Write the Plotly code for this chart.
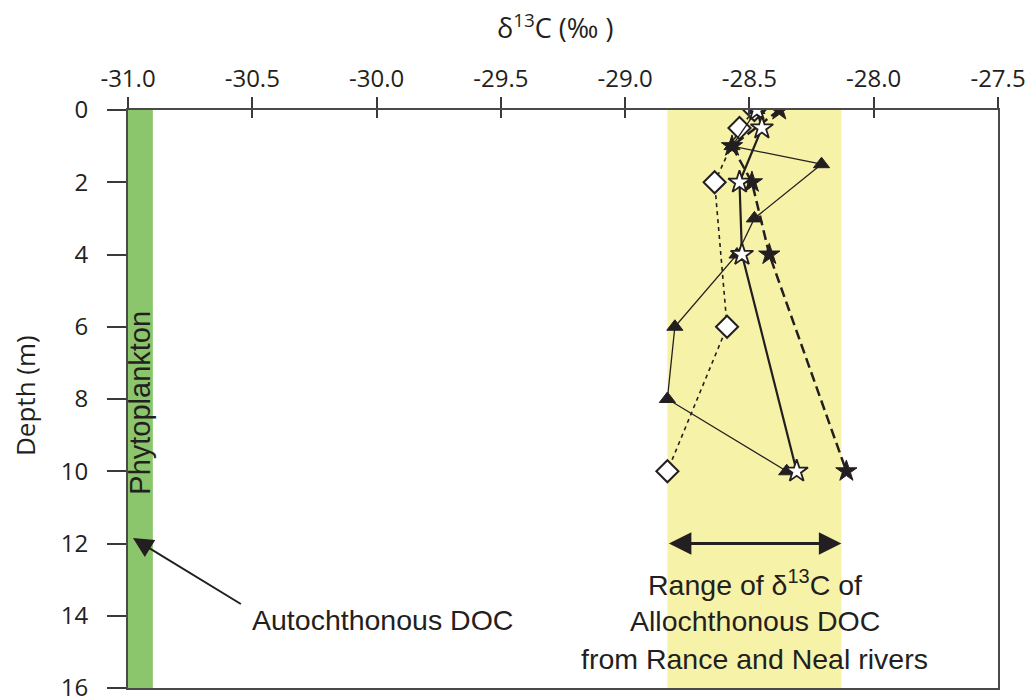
import plotly.graph_objects as go

# ---- data ----
tri_depth = [0, 1, 1.5, 3, 4, 6, 8, 10]
tri_d13c = [-28.47, -28.57, -28.21, -28.48, -28.55, -28.80, -28.83, -28.35]

ostar_depth = [0, 0.5, 2, 4, 10]
ostar_d13c = [-28.47, -28.45, -28.54, -28.53, -28.31]

fstar_depth = [0, 1, 2, 4, 10]
fstar_d13c = [-28.38, -28.57, -28.49, -28.42, -28.11]

dia_depth = [0, 0.5, 2, 6, 10]
dia_d13c = [-28.48, -28.54, -28.64, -28.59, -28.83]

phyto_range = [-31.0, -30.9]
alloch_range = [-28.83, -28.13]

x_ticks = [-31.0, -30.5, -30.0, -29.5, -29.0, -28.5, -28.0, -27.5]
y_ticks = [0, 2, 4, 6, 8, 10, 12, 14, 16]

INK = "#231f20"
TICKFONT = "Open Sans"
LABELFONT = "Liberation Sans, Arial, sans-serif"

fig = go.Figure()

# bands
fig.add_shape(type="rect", xref="x", yref="y", x0=phyto_range[0], x1=phyto_range[1],
              y0=0, y1=16, fillcolor="#8cc66c", line_width=0, layer="below")
fig.add_shape(type="rect", xref="x", yref="y", x0=alloch_range[0], x1=alloch_range[1],
              y0=0, y1=16, fillcolor="#f6f2a8", line_width=0, layer="below")

# series
fig.add_trace(go.Scatter(x=dia_d13c, y=dia_depth, mode="lines+markers",
                         line=dict(color=INK, width=1.6, dash="4px,4px"),
                         marker=dict(symbol="diamond", size=17, color="white",
                                     line=dict(color=INK, width=2)),
                         showlegend=False))
fig.add_trace(go.Scatter(x=fstar_d13c, y=fstar_depth, mode="lines+markers",
                         line=dict(color=INK, width=2.5, dash="10px,5px"),
                         marker=dict(symbol="star", size=16, color=INK,
                                     line=dict(color=INK, width=1)),
                         showlegend=False))
fig.add_trace(go.Scatter(x=tri_d13c, y=tri_depth, mode="lines+markers",
                         line=dict(color=INK, width=1.3),
                         marker=dict(symbol="triangle-up", size=14, color=INK,
                                     line=dict(color=INK, width=1)),
                         showlegend=False))
fig.add_trace(go.Scatter(x=ostar_d13c, y=ostar_depth, mode="lines+markers",
                         line=dict(color=INK, width=2.2),
                         marker=dict(symbol="star", size=17, color="white",
                                     line=dict(color=INK, width=1.8)),
                         showlegend=False))
# dummy trace so the inside-tick overlay axis is drawn
fig.add_trace(go.Scatter(x=[None], y=[None], xaxis="x2", showlegend=False,
                         hoverinfo="skip"))

# double arrow for allochthonous range
fig.add_annotation(x=alloch_range[1], y=12, ax=alloch_range[0], ay=12,
                   xref="x", yref="y", axref="x", ayref="y", text="",
                   showarrow=True, arrowhead=2, arrowside="end+start",
                   arrowsize=1.5, arrowwidth=3, arrowcolor=INK)
# autochthonous arrow
fig.add_annotation(x=-30.98, y=11.85, ax=-30.54, ay=13.7,
                   xref="x", yref="y", axref="x", ayref="y", text="",
                   showarrow=True, arrowhead=2, arrowsize=2, arrowwidth=2,
                   arrowcolor=INK)

fig.add_annotation(x=-30.51, y=14.13, xref="x", yref="y", text="Autochthonous DOC",
                   showarrow=False, xanchor="left", yanchor="middle",
                   font=dict(family=LABELFONT, size=28.5, color=INK))
for txt, yy in [("Range of δ<sup>13</sup>C of", 13.1),
                ("Allochthonous DOC", 14.15),
                ("from Rance and Neal rivers", 15.2)]:
    fig.add_annotation(x=-28.478, y=yy, xref="x", yref="y", text=txt,
                       showarrow=False, xanchor="center", yanchor="middle",
                       font=dict(family=LABELFONT, size=28.5, color=INK))
fig.add_annotation(x=-30.95, y=8.09, xref="x", yref="y", text="Phytoplankton",
                   showarrow=False, textangle=-90, xanchor="center", yanchor="middle",
                   font=dict(family=LABELFONT, size=29, color=INK))

# axis titles
fig.add_annotation(x=(555 - 128) / 870, y=(688 - 27) / 578, xref="paper", yref="paper",
                   text="δ<sup>13</sup>C (‰ )", showarrow=False,
                   xanchor="center", yanchor="middle",
                   font=dict(family=TICKFONT, size=27, color=INK))
fig.add_annotation(x=(25 - 128) / 870, y=(688 - 396) / 578, xref="paper", yref="paper",
                   text="Depth (m)", showarrow=False, textangle=-90,
                   xanchor="center", yanchor="middle",
                   font=dict(family=TICKFONT, size=26, color=INK))

# the page body has an 8px margin, so the figure is sized/margined to land
# its plot area at the reference pixel positions
fig.update_layout(
    width=1025, height=691,
    margin=dict(l=120, r=35, t=102, b=11, autoexpand=False),
    paper_bgcolor="white", plot_bgcolor="white",
    font=dict(family=TICKFONT, color=INK),
    xaxis=dict(range=[-31.0, -27.5], side="top", tickvals=x_ticks,
               ticktext=[f"{v:.1f}" for v in x_ticks], automargin=False,
               ticks="outside", ticklen=11, tickwidth=2, tickcolor="#3a3a3a",
               showline=True, linecolor="#4a4a4a", linewidth=2, mirror=True,
               showgrid=False, zeroline=False, ticklabeloverflow="allow",
               tickfont=dict(family=TICKFONT, size=24, color=INK)),
    xaxis2=dict(range=[-31.0, -27.5], overlaying="x", side="top", anchor="y",
                tickvals=x_ticks, showticklabels=False, automargin=False,
                ticks="inside", ticklen=8, tickwidth=2, tickcolor="#3a3a3a",
                showline=False, showgrid=False, zeroline=False),
    yaxis=dict(range=[16, 0], tickvals=y_ticks, automargin=False,
               ticks="outside", ticklen=19, tickwidth=2, tickcolor="#3a3a3a",
               showline=True, linecolor="#4a4a4a", linewidth=2, mirror=True,
               showgrid=False, zeroline=False, ticklabelstandoff=14,
               ticklabeloverflow="allow",
               tickfont=dict(family=TICKFONT, size=24, color=INK)),
)

fig.write_html("out.html")
